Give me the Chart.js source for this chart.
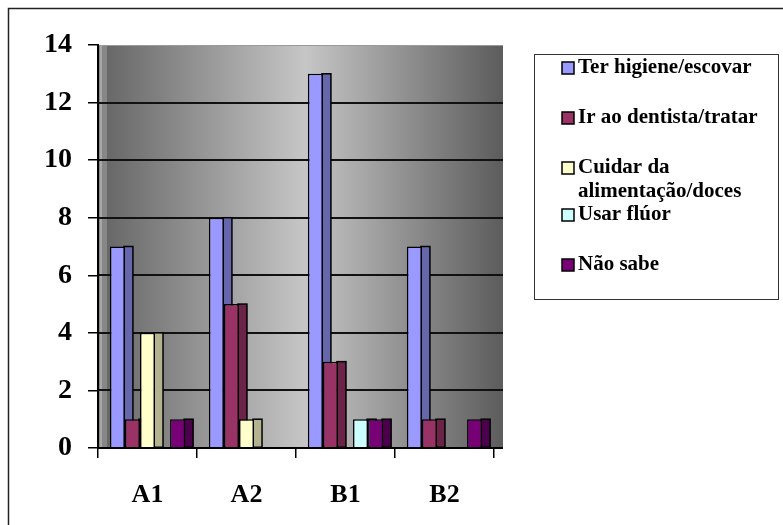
<!DOCTYPE html>
<html>
<head>
<meta charset="utf-8">
<script src="https://cdn.jsdelivr.net/npm/chart.js@4/dist/chart.umd.min.js"></script>
<style>
  html, body { margin: 0; padding: 0; background: #fff; }
  #wrap { width: 783px; height: 525px; }
</style>
</head>
<body>
<div id="wrap"><canvas id="chart" width="783" height="525"></canvas></div>
<script>
// data
const categories = ['A1', 'A2', 'B1', 'B2'];
const seriesNames = ['Ter higiene/escovar', 'Ir ao dentista/tratar', 'Cuidar da alimentação/doces', 'Usar flúor', 'Não sabe'];
const higiene = [7, 8, 13, 7];
const dentista = [1, 5, 3, 1];
const alimentacao = [4, 1, 0, 0];
const fluor = [0, 0, 1, 0];
const naoSabe = [1, 0, 1, 1];
const yMin = 0, yMax = 14, yStep = 2;

const frontColors = ['#9999FF', '#993366', '#FFFFCC', '#CCFFFF', '#770077'];
const sideColors = ['#6666AA', '#6B2447', '#B3B38F', '#8FB3B3', '#4A004A'];
const serif = "'Liberation Serif', 'Times New Roman', serif";
const DEPTH = 9;

const seriesValues = [higiene, dentista, alimentacao, fluor, naoSabe];

// back wall, side wall and gridlines (behind everything)
const walls = {
    id: 'walls',
    beforeDraw(chart) {
        const { ctx, chartArea: a, scales: { y } } = chart;
        const y0 = y.getPixelForValue(yMin);
        const yTop = y.getPixelForValue(yMax);
        ctx.save();
        ctx.fillStyle = '#878787';
        ctx.fillRect(a.left, yTop, DEPTH, y0 - yTop);
        ctx.fillStyle = '#a8a8a8';
        ctx.fillRect(a.left + 2, yTop, 2, y0 - yTop);
        const g = ctx.createLinearGradient(a.left + DEPTH, 0, a.right + DEPTH, 0);
        g.addColorStop(0, '#686868');
        g.addColorStop(0.5, '#c6c6c6');
        g.addColorStop(1, '#5c5c5c');
        ctx.fillStyle = g;
        ctx.fillRect(a.left + DEPTH, yTop, a.right - a.left, y0 - yTop);
        // top edge
        ctx.strokeStyle = '#9a9a9a';
        ctx.lineWidth = 1;
        ctx.beginPath();
        ctx.moveTo(a.left, yTop + 0.5);
        ctx.lineTo(a.right + DEPTH, yTop + 0.5);
        ctx.stroke();
        // gridlines
        ctx.strokeStyle = '#111';
        ctx.lineWidth = 2;
        y.ticks.forEach(t => {
            if (t.value === yMin || t.value === yMax) return;
            const py = Math.round(y.getPixelForValue(t.value));
            ctx.beginPath();
            ctx.moveTo(a.left, py);
            ctx.lineTo(a.right + DEPTH, py);
            ctx.stroke();
        });
        ctx.restore();
    },
    beforeDatasetsDraw(chart) {
        // side faces of the columns, drawn under all the fronts
        const { ctx } = chart;
        ctx.save();
        ctx.lineWidth = 1.5;
        ctx.strokeStyle = '#000';
        chart.data.datasets.forEach((ds, i) => {
            const meta = chart.getDatasetMeta(i);
            meta.data.forEach((bar, j) => {
                if (!ds.data[j]) return;
                const { x, y, base, width } = bar.getProps(['x', 'y', 'base', 'width'], true);
                const sx = x + width / 2 - 1;
                ctx.fillStyle = sideColors[i];
                ctx.fillRect(sx, y, DEPTH, base - y);
                ctx.strokeRect(sx, y, DEPTH, base - y);
            });
        });
        ctx.restore();
    },
    afterDatasetsDraw(chart) {
        const { ctx, chartArea: a, scales: { y } } = chart;
        const y0 = Math.round(y.getPixelForValue(yMin));
        ctx.save();
        ctx.strokeStyle = '#000';
        ctx.lineWidth = 2;
        ctx.beginPath();
        ctx.moveTo(a.left - 1, y0);
        ctx.lineTo(a.right + DEPTH, y0);
        ctx.stroke();
        ctx.restore();
    }
};

// Excel-like boxed legend and outer frame
const boxLegend = {
    id: 'boxLegend',
    afterDraw(chart) {
        const { ctx } = chart;
        ctx.save();
        // outer chart frame (right and bottom edges fall outside the picture)
        ctx.strokeStyle = '#222';
        ctx.lineWidth = 1.5;
        ctx.strokeRect(8.5, 8.5, 820, 560);
        // legend box
        ctx.fillStyle = '#fff';
        ctx.fillRect(534.5, 54.5, 244, 245);
        ctx.lineWidth = 1;
        ctx.strokeStyle = '#333';
        ctx.strokeRect(534.5, 54.5, 244, 245);
        ctx.font = 'bold 21px ' + serif;
        ctx.textBaseline = 'middle';
        ctx.fillStyle = '#000';
        const lines = [['Cuidar da', 'alimentação/doces']];
        let cy = 68;
        chart.data.datasets.forEach((ds, i) => {
            ctx.fillStyle = frontColors[i];
            ctx.fillRect(562, cy - 6, 12, 12);
            ctx.lineWidth = 1.5;
            ctx.strokeStyle = '#000';
            ctx.strokeRect(562, cy - 6, 12, 12);
            ctx.fillStyle = '#000';
            const text = ds.label === 'Cuidar da alimentação/doces' ? lines[0] : [ds.label];
            text.forEach((t, k) => ctx.fillText(t, 578, cy + k * 24));
            cy += text.length > 1 ? 47 : 50;
        });
        ctx.restore();
    }
};

const datasets = seriesNames.map((name, i) => ({
    label: name,
    data: seriesValues[i],
    backgroundColor: frontColors[i],
    borderColor: '#000',
    borderWidth: 1.5,
    categoryPercentage: 0.76,
    barPercentage: 1.0
}));

new Chart(document.getElementById('chart').getContext('2d'), {
    type: 'bar',
    data: { labels: categories, datasets: datasets },
    options: {
        responsive: false,
        animation: false,
        layout: { padding: { left: 0, right: 289, top: 45, bottom: 0 } },
        plugins: {
            legend: { display: false },
            tooltip: { enabled: false }
        },
        scales: {
            x: {
                grid: { drawOnChartArea: false, drawTicks: true, tickLength: 10, color: '#000', lineWidth: 1.5, offset: true },
                border: { display: false },
                ticks: { color: '#000', padding: 22, font: { family: serif, size: 26, weight: 'bold' } },
                afterFit(scale) { scale.height = 77; }
            },
            y: {
                min: yMin,
                max: yMax,
                grid: { drawOnChartArea: false, drawTicks: true, tickLength: 10, color: '#000', lineWidth: 1.5 },
                border: { display: true, color: '#000', width: 2 },
                ticks: { stepSize: yStep, color: '#000', padding: 16, font: { family: serif, size: 28, weight: 'bold' } },
                afterFit(scale) { scale.width = 98; }
            }
        }
    },
    plugins: [walls, boxLegend]
});
</script>
</body>
</html>
